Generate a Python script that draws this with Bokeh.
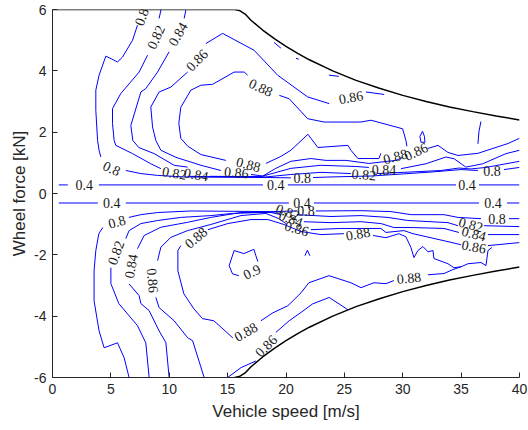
from bokeh.plotting import figure
from bokeh.models import ColumnDataSource, FixedTicker, LabelSet, PrintfTickFormatter
from bokeh.embed import file_html
from bokeh.resources import INLINE

# ---------------- data ----------------
x_ticks = [0, 5, 10, 15, 20, 25, 30, 35, 40]
y_ticks = [-6, -4, -2, 0, 2, 4, 6]

# traction limit (black curves)
limit_speed_top = [0, 15.6, 16.0, 16.5, 17, 18, 19, 20, 21, 22, 24, 26, 28, 30, 32, 34, 36, 38, 40]
limit_force_top = [6.0, 6.0, 5.97, 5.85, 5.65, 5.33, 5.05, 4.8, 4.57, 4.36, 4.0, 3.69, 3.43, 3.2, 3.0, 2.82, 2.67, 2.53, 2.4]
limit_speed_bot = [15.6, 16.0, 16.5, 17, 18, 19, 20, 21, 22, 24, 26, 28, 30, 32, 34, 36, 38, 40]
limit_force_bot = [-6.0, -5.97, -5.85, -5.65, -5.33, -5.05, -4.8, -4.57, -4.36, -4.0, -3.69, -3.43, -3.2, -3.0, -2.82, -2.67, -2.53, -2.4]

# efficiency contour pieces: (speed m/s, force kN)
c040 = [
    [(0.54, 0.28), (1.31, 0.28)],
    [(3.97, 0.28), (18.02, 0.28)],
    [(20.16, 0.28), (34.56, 0.28)],
    [(36.53, 0.28), (40.0, 0.28)],
    [(0.54, -0.31), (3.88, -0.31)],
    [(6.28, -0.31), (20.25, -0.31)],
    [(22.39, -0.31), (36.53, -0.31)],
    [(38.93, -0.31), (40.0, -0.31)],
]
c080 = [
    [(7.28, 5.49), (6.86, 5.0), (6.0, 4.45), (5.57, 4.29), (4.57, 4.48), (3.99, 3.86), (3.71, 3.37),
     (3.71, 2.71), (3.86, 1.73), (3.99, 1.41), (4.14, 1.19)],
    [(6.28, 0.75), (7.57, 0.65), (9.0, 0.59), (11.25, 0.54), (18.71, 0.52), (20.42, 0.51)],
    [(22.31, 0.52), (23.85, 0.54), (27.28, 0.57), (30.1, 0.64), (32.42, 0.70), (34.99, 0.78), (36.44, 0.75)],
    [(38.67, 0.78), (40.0, 0.85)],
    [(6.56, -6.0), (6.14, -5.36), (5.57, -4.87), (4.42, -5.03), (3.99, -4.48), (3.56, -3.50), (3.56, -2.52),
     (3.71, -1.86), (3.97, -1.31), (4.31, -1.11)],
    [(6.54, -0.78), (7.57, -0.69), (9.02, -0.62), (11.85, -0.57), (18.71, -0.59), (20.93, -0.57)],
    [(22.56, -0.57), (26.42, -0.56), (28.99, -0.59), (30.7, -0.69), (33.53, -0.69), (34.73, -0.78), (36.7, -0.82)],
    [(39.1, -0.82), (40.0, -0.82)],
]
c082 = [
    [(9.30, 6.0), (9.13, 5.71)],
    [(8.14, 4.51), (7.42, 3.96), (5.85, 3.26), (5.14, 2.77), (5.14, 2.28), (5.28, 1.73), (5.42, 1.57),
     (6.86, 1.30), (8.42, 0.97), (9.28, 0.81)],
    [(11.59, 0.56), (13.56, 0.55), (18.28, 0.54), (20.42, 0.62), (22.99, 0.69), (25.56, 0.65)],
    [(27.79, 0.65), (30.1, 0.69), (33.27, 0.75), (34.81, 0.83), (35.84, 0.80), (37.13, 0.85), (40.0, 1.05)],
    [(8.28, -6.0), (7.99, -4.87), (7.28, -4.31), (5.68, -3.59), (5.0, -2.94), (5.0, -2.42)],
    [(6.28, -1.47), (6.56, -1.21), (7.57, -0.98), (9.02, -0.88), (10.99, -0.78), (13.56, -0.72),
     (15.42, -0.65), (18.71, -0.61), (19.56, -0.60)],
    [(20.93, -0.69), (23.85, -0.75), (26.42, -0.72), (28.73, -0.78), (30.44, -0.88), (33.87, -0.95), (34.73, -1.05)],
    [(36.96, -1.05), (40.0, -1.08)],
]
c084 = [
    [(11.42, 5.98), (11.28, 5.71)],
    [(9.99, 4.62), (9.0, 3.96), (7.99, 3.42), (7.57, 3.31), (6.71, 2.22), (6.88, 1.73), (7.39, 1.50),
     (8.71, 1.30), (10.42, 0.92), (11.57, 0.86)],
    [(13.48, 0.56), (17.85, 0.55), (20.42, 0.82), (22.99, 0.92), (25.99, 0.88), (27.1, 0.85)],
    [(29.85, 0.81), (31.99, 0.97), (33.7, 1.19), (34.41, 1.13), (35.41, 0.86), (36.85, 0.97), (38.84, 1.30), (40.0, 1.41)],
    [(9.99, -6.0), (9.71, -4.86), (9.13, -4.48), (8.28, -3.82), (7.57, -3.59), (7.42, -3.33), (6.56, -2.95)],
    [(7.28, -1.80), (7.85, -1.37), (9.28, -1.10), (11.57, -0.94), (13.56, -0.78), (16.14, -0.62),
     (18.71, -0.62), (19.56, -0.69)],
    [(21.53, -0.92), (23.85, -0.95), (26.42, -0.92), (28.13, -0.98), (29.24, -1.11), (30.7, -1.11),
     (33.53, -1.14), (34.81, -1.27)],
    [(37.3, -1.34), (40.0, -1.34)],
]
c086 = [
    [(28.41, 3.23), (26.85, 3.31)],
    [(23.7, 2.93), (21.85, 3.15), (19.28, 3.86), (17.27, 4.67), (14.57, 5.22), (13.14, 4.89)],
    [(11.57, 3.96), (10.14, 3.47), (9.13, 3.31), (8.42, 2.82), (8.57, 2.17), (8.85, 1.73), (9.28, 1.41),
     (10.57, 1.18), (12.71, 0.92), (14.42, 0.75)],
    [(17.0, 0.62), (18.02, 0.57), (19.13, 0.82), (20.42, 1.05), (22.13, 1.14), (23.42, 1.08), (25.13, 1.08),
     (27.1, 0.98), (29.41, 1.08), (30.02, 1.18)],
    [(32.16, 1.47), (33.02, 1.57), (33.87, 1.34), (34.73, 1.24), (36.44, 1.31), (39.02, 1.63), (40.0, 1.80)],
    [(18.97, 4.93), (19.56, 4.74)],
    [(20.85, 4.41), (21.1, 4.38)],
    [(23.68, 3.86), (24.53, 3.82)],
    [(12.99, -6.0), (12.0, -4.80), (11.57, -4.70), (10.42, -4.15), (9.13, -3.72), (8.85, -3.39)],
    [(9.0, -2.19), (9.28, -1.75), (10.14, -1.43), (11.57, -1.21), (13.56, -1.01), (16.14, -0.72),
     (18.28, -0.65), (19.39, -0.82), (19.99, -0.98)],
    [(22.13, -1.18), (24.7, -1.14), (28.13, -1.14), (28.56, -1.27), (30.1, -1.21), (30.87, -1.31),
     (33.53, -1.54), (34.99, -1.67)],
    [(37.3, -1.70), (40.0, -1.60)],
    [(15.0, -6.0), (16.14, -5.68), (17.42, -5.46)],
    [(19.13, -4.53), (20.27, -4.15), (21.28, -3.88), (22.28, -3.60), (23.7, -3.39), (25.3, -3.79)],
]
c088 = [
    [(19.43, 3.20), (20.27, 3.09), (21.85, 2.44), (23.27, 2.33), (26.42, 2.33), (27.28, 2.39), (29.99, 2.11),
     (30.27, 1.73), (30.36, 1.54)],
    [(28.13, 1.31), (27.96, 1.14), (26.16, 1.14), (25.56, 1.41), (25.3, 1.57), (22.73, 1.50), (21.88, 1.93),
     (20.42, 1.41), (19.56, 1.21), (18.28, 0.98)],
    [(14.85, 1.08), (12.71, 1.27), (11.59, 1.54), (10.99, 1.80), (10.82, 2.29), (10.99, 2.81), (11.85, 3.37),
     (12.71, 3.53), (13.71, 3.56), (15.56, 3.96), (16.42, 3.96), (16.71, 3.86)],
    [(31.56, 1.67), (31.47, 1.86), (31.69, 2.03), (31.86, 1.86), (31.9, 1.67), (31.56, 1.67)],
    [(36.7, 2.35), (36.53, 2.03), (36.44, 1.62)],
    [(13.31, -1.18), (15.02, -0.98), (17.0, -0.85), (18.45, -0.85), (19.82, -1.01), (21.28, -1.24),
     (22.99, -1.34), (24.96, -1.31)],
    [(27.45, -1.37), (28.56, -1.44), (29.67, -1.31), (30.27, -1.41), (30.7, -1.76), (30.96, -2.09),
     (31.3, -1.86), (31.73, -1.73), (32.16, -1.90), (32.59, -1.86), (32.67, -2.12), (33.87, -2.29),
     (34.39, -2.42), (34.99, -2.39)],
    [(34.99, -2.39), (34.3, -2.48), (33.53, -2.61), (32.16, -2.65)],
    [(34.99, -2.39), (35.59, -2.29), (36.7, -2.25), (37.13, -2.35), (37.3, -1.86), (37.64, -1.76)],
    [(29.24, -2.84), (28.56, -2.94), (27.53, -2.91), (26.42, -3.07), (25.56, -2.91), (23.68, -2.68),
     (21.96, -2.91), (21.28, -3.24), (20.16, -3.66), (18.88, -3.89), (17.85, -4.15)],
    [(15.45, -4.71), (13.82, -4.15), (12.85, -4.08), (12.11, -3.76), (11.25, -3.27), (10.74, -2.52),
     (10.74, -1.86), (10.99, -1.70)],
]
c090 = [
    [(17.59, -2.22), (17.42, -2.03), (17.25, -1.82), (16.39, -1.96), (15.56, -1.86), (15.13, -2.35),
     (15.42, -2.62), (15.96, -2.68)],
    [(21.62, -2.03), (21.83, -1.85), (22.05, -2.03)],
]

# contour labels: speed, force, text, angle (deg)
lab_speed = [7.62, 8.85, 10.74, 12.36, 17.85, 25.56, 5.08, 10.44, 12.31, 15.75, 16.78, 21.4, 26.68, 28.39,
             29.37, 31.13, 37.64, 2.72, 19.13, 35.5, 5.08, 21.36, 37.73,
             5.51, 5.42, 6.71, 8.59, 12.28, 20.16, 21.71, 20.42, 20.93, 26.16, 35.84, 36.1, 36.1, 38.07,
             17.08, 16.56, 18.28, 30.53]
lab_force = [5.76, 5.1, 5.2, 4.35, 3.46, 3.14, 0.82, 0.67, 0.62, 0.69, 0.95, 0.51, 0.62, 0.77,
             1.21, 1.37, 0.74, 0.28, 0.28, 0.28, -0.31, -0.31, -0.31,
             -0.92, -1.93, -2.37, -2.84, -1.44, -0.60, -0.56, -0.82, -1.14, -1.31, -1.01, -1.31, -1.73, -0.82,
             -2.55, -4.51, -4.97, -2.75]
lab_text = ["0.8", "0.82", "0.84", "0.86", "0.88", "0.86", "0.8", "0.82", "0.84", "0.86", "0.88", "0.8", "0.82", "0.84",
            "0.88", "0.86", "0.8", "0.4", "0.4", "0.4", "0.4", "0.4", "0.4",
            "0.8", "0.82", "0.84", "0.86", "0.88", "0.82", "0.8", "0.84", "0.86", "0.88", "0.82", "0.84", "0.86", "0.8",
            "0.9", "0.88", "0.86", "0.88"]
lab_angle = [70, 65, 60, 45, -25, 10, -25, -10, -10, -5, -15, 0, -5, 0,
             15, 25, 0, 0, 0, 0, 0, 0, 0,
             15, 70, 80, -85, 40, -20, 0, -20, -15, 10, -15, -15, -10, 0,
             25, 30, 45, 5]

# ---------------- figure ----------------
p = figure(width=528, height=430, x_range=(0, 40), y_range=(-6, 6),
           output_backend="svg", toolbar_location=None,
           min_border_left=52, min_border_right=9, min_border_top=9, min_border_bottom=53)
p.xgrid.visible = False
p.ygrid.visible = False
p.outline_line_color = None
p.background_fill_color = "white"
p.border_fill_color = "white"

xs, ys = [], []
for level in (c040, c080, c082, c084, c086, c088, c090):
    for seg in level:
        xs.append([pt[0] for pt in seg])
        ys.append([pt[1] for pt in seg])
p.multi_line(xs, ys, line_color="#0000ff", line_width=1)

p.line(limit_speed_top, limit_force_top, line_color="black", line_width=1.5)
p.line(limit_speed_bot, limit_force_bot, line_color="black", line_width=1.5)

src = ColumnDataSource(dict(x=lab_speed, y=lab_force, text=lab_text, angle=lab_angle))
labels = LabelSet(x="x", y="y", text="text", angle="angle", angle_units="deg", source=src,
                  text_font="Liberation Sans", text_font_size="14px", text_color="#1a1a1a",
                  text_align="center", text_baseline="middle")
p.add_layout(labels)

p.xaxis.ticker = FixedTicker(ticks=x_ticks)
p.yaxis.ticker = FixedTicker(ticks=y_ticks)
p.xaxis.formatter = PrintfTickFormatter(format="%d")
p.yaxis.formatter = PrintfTickFormatter(format="%d")
for ax in (p.xaxis[0], p.yaxis[0]):
    ax.major_tick_in = 5
    ax.major_tick_out = 0
    ax.minor_tick_in = 0
    ax.minor_tick_out = 0
    ax.axis_line_color = "#262626"
    ax.major_tick_line_color = "#262626"
    ax.major_label_text_font = "Liberation Sans"
    ax.major_label_text_font_size = "14px"
    ax.major_label_text_color = "#262626"
    ax.axis_label_text_font = "Liberation Sans"
    ax.axis_label_text_font_size = "17px"
    ax.axis_label_text_font_style = "normal"
    ax.axis_label_text_color = "#262626"
    ax.major_label_standoff = 6
p.xaxis.axis_label_standoff = 5
p.yaxis.axis_label_standoff = 2
p.xaxis.axis_label = "Vehicle speed [m/s]"
p.yaxis.axis_label = "Wheel force [kN]"

open("out.html", "w").write(file_html(p, INLINE))
